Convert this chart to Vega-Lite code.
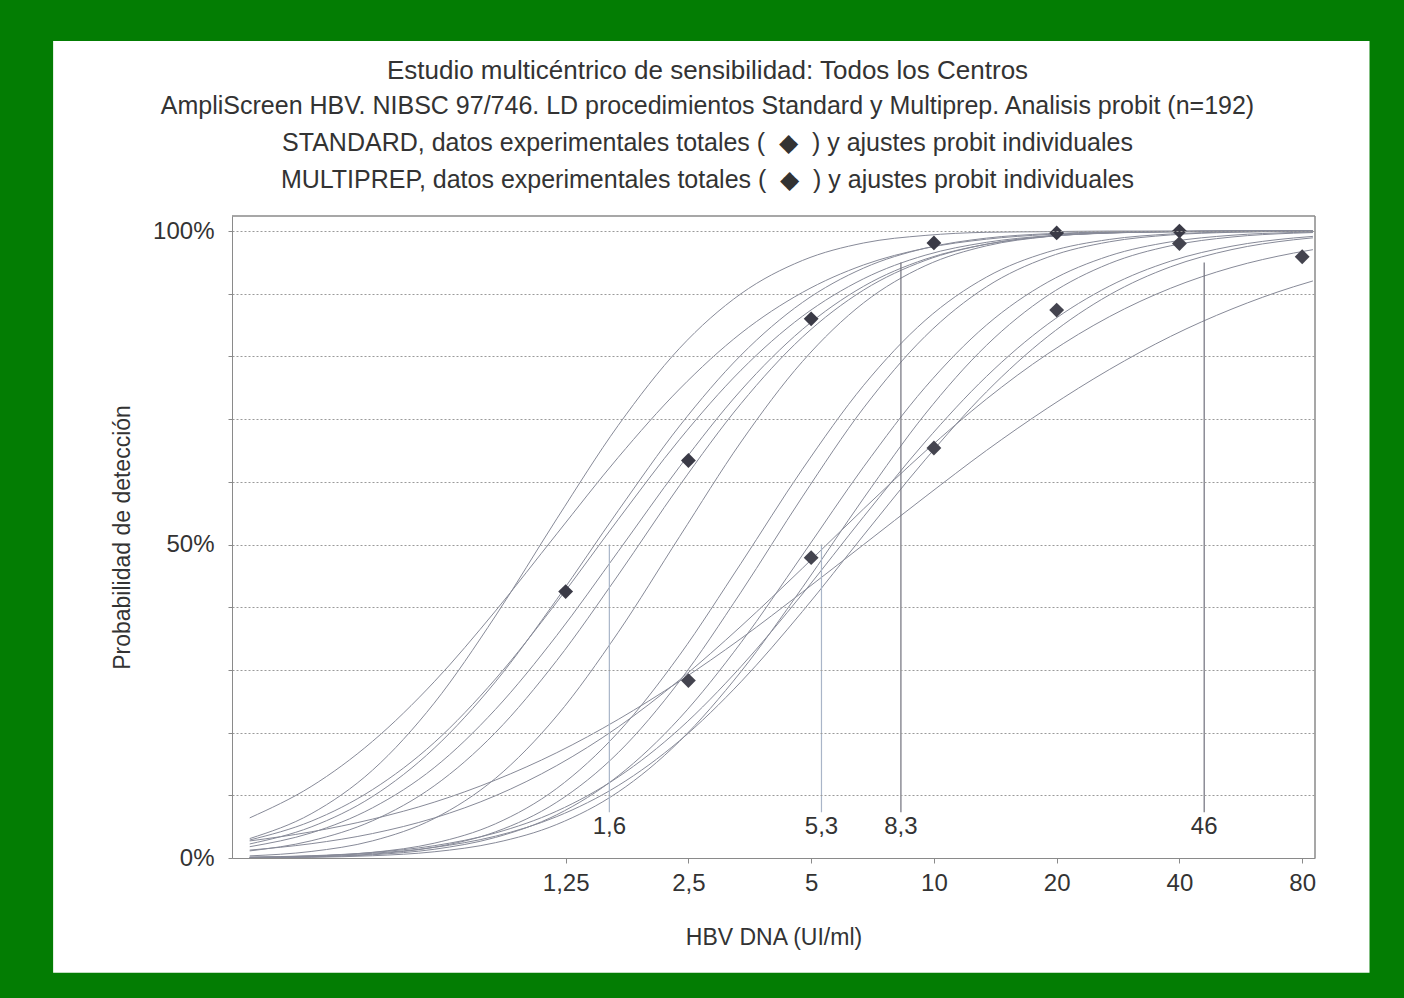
{
  "$schema": "https://vega.github.io/schema/vega-lite/v6.json",
  "width": 1083,
  "height": 642,
  "autosize": {"type": "none"},
  "padding": {"left": 232, "top": 216, "right": 89, "bottom": 140},
  "background": "#037d03",
  "config": {"view": {"stroke": null, "fill": null}, "font": "Liberation Sans"},
  "title": {
    "text": "Estudio multicéntrico de sensibilidad: Todos los Centros",
    "subtitle": [
      "AmpliScreen HBV. NIBSC 97/746. LD procedimientos Standard y Multiprep. Analisis probit (n=192)",
      "STANDARD, datos experimentales totales ( \u00a0◆\u00a0 ) y ajustes probit individuales",
      "MULTIPREP, datos experimentales totales ( \u00a0◆\u00a0 ) y ajustes probit individuales"
    ],
    "frame": "group",
    "anchor": "middle",
    "dx": -66,
    "offset": -152,
    "font": "Liberation Sans",
    "subtitleFont": "Liberation Sans",
    "fontSize": 26,
    "subtitleFontSize": 25,
    "fontWeight": "normal",
    "color": "#333333",
    "subtitleColor": "#333333",
    "subtitlePadding": 10,
    "subtitleLineHeight": 37
  },
  "datasets": {
    "curves": [
      {"c":"S1","x":0.21,"p":0.031},{"c":"S1","x":0.297,"p":0.0705},{"c":"S1","x":0.42,"p":0.14},{"c":"S1","x":0.595,"p":0.247},{"c":"S1","x":0.841,"p":0.386},{"c":"S1","x":1.189,"p":0.541},{"c":"S1","x":1.682,"p":0.69},{"c":"S1","x":2.378,"p":0.813},{"c":"S1","x":3.364,"p":0.9},{"c":"S1","x":4.757,"p":0.953},{"c":"S1","x":6.727,"p":0.981},{"c":"S1","x":9.514,"p":0.993},{"c":"S1","x":13.45,"p":0.998},{"c":"S1","x":19.03,"p":0.999},{"c":"S1","x":26.91,"p":1},{"c":"S1","x":38.06,"p":1},{"c":"S1","x":53.82,"p":1},{"c":"S1","x":76.11,"p":1},{"c":"S1","x":85,"p":1},
      {"c":"S2","x":0.21,"p":0.064},{"c":"S2","x":0.297,"p":0.114},{"c":"S2","x":0.42,"p":0.186},{"c":"S2","x":0.595,"p":0.281},{"c":"S2","x":0.841,"p":0.394},{"c":"S2","x":1.189,"p":0.517},{"c":"S2","x":1.682,"p":0.639},{"c":"S2","x":2.378,"p":0.748},{"c":"S2","x":3.364,"p":0.837},{"c":"S2","x":4.757,"p":0.902},{"c":"S2","x":6.727,"p":0.946},{"c":"S2","x":9.514,"p":0.9725},{"c":"S2","x":13.45,"p":0.987},{"c":"S2","x":19.03,"p":0.9945},{"c":"S2","x":26.91,"p":0.998},{"c":"S2","x":38.06,"p":0.999},{"c":"S2","x":53.82,"p":1},{"c":"S2","x":76.11,"p":1},{"c":"S2","x":85,"p":1},
      {"c":"S3","x":0.21,"p":0.0224},{"c":"S3","x":0.297,"p":0.0495},{"c":"S3","x":0.42,"p":0.098},{"c":"S3","x":0.595,"p":0.175},{"c":"S3","x":0.841,"p":0.281},{"c":"S3","x":1.189,"p":0.4125},{"c":"S3","x":1.682,"p":0.554},{"c":"S3","x":2.378,"p":0.689},{"c":"S3","x":3.364,"p":0.802},{"c":"S3","x":4.757,"p":0.886},{"c":"S3","x":6.727,"p":0.941},{"c":"S3","x":9.514,"p":0.9726},{"c":"S3","x":13.45,"p":0.9887},{"c":"S3","x":19.03,"p":0.9958},{"c":"S3","x":26.91,"p":0.9986},{"c":"S3","x":38.06,"p":0.9996},{"c":"S3","x":53.82,"p":1},{"c":"S3","x":76.11,"p":1},{"c":"S3","x":85,"p":1},
      {"c":"S4","x":0.21,"p":0.0287},{"c":"S4","x":0.297,"p":0.0586},{"c":"S4","x":0.42,"p":0.109},{"c":"S4","x":0.595,"p":0.184},{"c":"S4","x":0.841,"p":0.2855},{"c":"S4","x":1.189,"p":0.408},{"c":"S4","x":1.682,"p":0.54},{"c":"S4","x":2.378,"p":0.6675},{"c":"S4","x":3.364,"p":0.778},{"c":"S4","x":4.757,"p":0.864},{"c":"S4","x":6.727,"p":0.924},{"c":"S4","x":9.514,"p":0.9614},{"c":"S4","x":13.45,"p":0.982},{"c":"S4","x":19.03,"p":0.9925},{"c":"S4","x":26.91,"p":0.9972},{"c":"S4","x":38.06,"p":0.999},{"c":"S4","x":53.82,"p":0.9997},{"c":"S4","x":76.11,"p":1},{"c":"S4","x":85,"p":1},
      {"c":"S5","x":0.21,"p":0.018},{"c":"S5","x":0.297,"p":0.04},{"c":"S5","x":0.42,"p":0.08},{"c":"S5","x":0.595,"p":0.144},{"c":"S5","x":0.841,"p":0.237},{"c":"S5","x":1.189,"p":0.355},{"c":"S5","x":1.682,"p":0.489},{"c":"S5","x":2.378,"p":0.624},{"c":"S5","x":3.364,"p":0.746},{"c":"S5","x":4.757,"p":0.843},{"c":"S5","x":6.727,"p":0.912},{"c":"S5","x":9.514,"p":0.955},{"c":"S5","x":13.45,"p":0.979},{"c":"S5","x":19.03,"p":0.9915},{"c":"S5","x":26.91,"p":0.9968},{"c":"S5","x":38.06,"p":0.999},{"c":"S5","x":53.82,"p":0.9997},{"c":"S5","x":76.11,"p":1},{"c":"S5","x":85,"p":1},
      {"c":"S6","x":0.21,"p":0.0113},{"c":"S6","x":0.297,"p":0.0274},{"c":"S6","x":0.42,"p":0.0593},{"c":"S6","x":0.595,"p":0.115},{"c":"S6","x":0.841,"p":0.2},{"c":"S6","x":1.189,"p":0.315},{"c":"S6","x":1.682,"p":0.4514},{"c":"S6","x":2.378,"p":0.594},{"c":"S6","x":3.364,"p":0.7247},{"c":"S6","x":4.757,"p":0.8307},{"c":"S6","x":6.727,"p":0.906},{"c":"S6","x":9.514,"p":0.953},{"c":"S6","x":13.45,"p":0.979},{"c":"S6","x":19.03,"p":0.9917},{"c":"S6","x":26.91,"p":0.997},{"c":"S6","x":38.06,"p":0.999},{"c":"S6","x":53.82,"p":0.9997},{"c":"S6","x":76.11,"p":1},{"c":"S6","x":85,"p":1},
      {"c":"S7","x":0.21,"p":0.0034},{"c":"S7","x":0.297,"p":0.0104},{"c":"S7","x":0.42,"p":0.0273},{"c":"S7","x":0.595,"p":0.0629},{"c":"S7","x":0.841,"p":0.127},{"c":"S7","x":1.189,"p":0.2266},{"c":"S7","x":1.682,"p":0.36},{"c":"S7","x":2.378,"p":0.5125},{"c":"S7","x":3.364,"p":0.6635},{"c":"S7","x":4.757,"p":0.7917},{"c":"S7","x":6.727,"p":0.8856},{"c":"S7","x":9.514,"p":0.9445},{"c":"S7","x":13.45,"p":0.9764},{"c":"S7","x":19.03,"p":0.9912},{"c":"S7","x":26.91,"p":0.9972},{"c":"S7","x":38.06,"p":0.9992},{"c":"S7","x":53.82,"p":0.9998},{"c":"S7","x":76.11,"p":1},{"c":"S7","x":85,"p":1},
      {"c":"M1","x":0.21,"p":0.0009},{"c":"M1","x":0.297,"p":0.003},{"c":"M1","x":0.42,"p":0.009},{"c":"M1","x":0.595,"p":0.0236},{"c":"M1","x":0.841,"p":0.0545},{"c":"M1","x":1.189,"p":0.111},{"c":"M1","x":1.682,"p":0.2005},{"c":"M1","x":2.378,"p":0.3235},{"c":"M1","x":3.364,"p":0.47},{"c":"M1","x":4.757,"p":0.62},{"c":"M1","x":6.727,"p":0.754},{"c":"M1","x":9.514,"p":0.8574},{"c":"M1","x":13.45,"p":0.9265},{"c":"M1","x":19.03,"p":0.9665},{"c":"M1","x":26.91,"p":0.9866},{"c":"M1","x":38.06,"p":0.9953},{"c":"M1","x":53.82,"p":0.9985},{"c":"M1","x":76.11,"p":0.9996},{"c":"M1","x":85,"p":1},
      {"c":"M2","x":0.21,"p":0.0005},{"c":"M2","x":0.297,"p":0.002},{"c":"M2","x":0.42,"p":0.0062},{"c":"M2","x":0.595,"p":0.0172},{"c":"M2","x":0.841,"p":0.0417},{"c":"M2","x":1.189,"p":0.089},{"c":"M2","x":1.682,"p":0.168},{"c":"M2","x":2.378,"p":0.282},{"c":"M2","x":3.364,"p":0.424},{"c":"M2","x":4.757,"p":0.576},{"c":"M2","x":6.727,"p":0.718},{"c":"M2","x":9.514,"p":0.832},{"c":"M2","x":13.45,"p":0.911},{"c":"M2","x":19.03,"p":0.9583},{"c":"M2","x":26.91,"p":0.9828},{"c":"M2","x":38.06,"p":0.9938},{"c":"M2","x":53.82,"p":0.998},{"c":"M2","x":76.11,"p":0.9995},{"c":"M2","x":85,"p":0.9997},
      {"c":"M3","x":0.21,"p":0.0005},{"c":"M3","x":0.297,"p":0.0017},{"c":"M3","x":0.42,"p":0.0052},{"c":"M3","x":0.595,"p":0.0139},{"c":"M3","x":0.841,"p":0.0328},{"c":"M3","x":1.189,"p":0.069},{"c":"M3","x":1.682,"p":0.131},{"c":"M3","x":2.378,"p":0.2228},{"c":"M3","x":3.364,"p":0.3435},{"c":"M3","x":4.757,"p":0.483},{"c":"M3","x":6.727,"p":0.624},{"c":"M3","x":9.514,"p":0.7506},{"c":"M3","x":13.45,"p":0.85},{"c":"M3","x":19.03,"p":0.9186},{"c":"M3","x":26.91,"p":0.9604},{"c":"M3","x":38.06,"p":0.9828},{"c":"M3","x":53.82,"p":0.9933},{"c":"M3","x":76.11,"p":0.9977},{"c":"M3","x":85,"p":0.9984},
      {"c":"M4","x":0.21,"p":0.0003},{"c":"M4","x":0.297,"p":0.0011},{"c":"M4","x":0.42,"p":0.0036},{"c":"M4","x":0.595,"p":0.0099},{"c":"M4","x":0.841,"p":0.0244},{"c":"M4","x":1.189,"p":0.0535},{"c":"M4","x":1.682,"p":0.1053},{"c":"M4","x":2.378,"p":0.1862},{"c":"M4","x":3.364,"p":0.2973},{"c":"M4","x":4.757,"p":0.4313},{"c":"M4","x":6.727,"p":0.574},{"c":"M4","x":9.514,"p":0.708},{"c":"M4","x":13.45,"p":0.8176},{"c":"M4","x":19.03,"p":0.8973},{"c":"M4","x":26.91,"p":0.948},{"c":"M4","x":38.06,"p":0.9765},{"c":"M4","x":53.82,"p":0.9905},{"c":"M4","x":76.11,"p":0.9966},{"c":"M4","x":85,"p":0.9976},
      {"c":"M5","x":0.21,"p":0.0014},{"c":"M5","x":0.297,"p":0.0036},{"c":"M5","x":0.42,"p":0.0088},{"c":"M5","x":0.595,"p":0.0196},{"c":"M5","x":0.841,"p":0.0399},{"c":"M5","x":1.189,"p":0.0748},{"c":"M5","x":1.682,"p":0.1292},{"c":"M5","x":2.378,"p":0.206},{"c":"M5","x":3.364,"p":0.3053},{"c":"M5","x":4.757,"p":0.421},{"c":"M5","x":6.727,"p":0.5445},{"c":"M5","x":9.514,"p":0.6635},{"c":"M5","x":13.45,"p":0.768},{"c":"M5","x":19.03,"p":0.8516},{"c":"M5","x":26.91,"p":0.912},{"c":"M5","x":38.06,"p":0.952},{"c":"M5","x":53.82,"p":0.9759},{"c":"M5","x":76.11,"p":0.9889},{"c":"M5","x":85,"p":0.9915},
      {"c":"M6","x":0.21,"p":0.0011},{"c":"M6","x":0.297,"p":0.0031},{"c":"M6","x":0.42,"p":0.0075},{"c":"M6","x":0.595,"p":0.0169},{"c":"M6","x":0.841,"p":0.0348},{"c":"M6","x":1.189,"p":0.066},{"c":"M6","x":1.682,"p":0.1155},{"c":"M6","x":2.378,"p":0.187},{"c":"M6","x":3.364,"p":0.281},{"c":"M6","x":4.757,"p":0.393},{"c":"M6","x":6.727,"p":0.515},{"c":"M6","x":9.514,"p":0.635},{"c":"M6","x":13.45,"p":0.7435},{"c":"M6","x":19.03,"p":0.832},{"c":"M6","x":26.91,"p":0.898},{"c":"M6","x":38.06,"p":0.943},{"c":"M6","x":53.82,"p":0.9705},{"c":"M6","x":76.11,"p":0.986},{"c":"M6","x":85,"p":0.9892},
      {"c":"M7","x":0.21,"p":0.0272},{"c":"M7","x":0.297,"p":0.0417},{"c":"M7","x":0.42,"p":0.062},{"c":"M7","x":0.595,"p":0.089},{"c":"M7","x":0.841,"p":0.1243},{"c":"M7","x":1.189,"p":0.168},{"c":"M7","x":1.682,"p":0.221},{"c":"M7","x":2.378,"p":0.282},{"c":"M7","x":3.364,"p":0.35},{"c":"M7","x":4.757,"p":0.424},{"c":"M7","x":6.727,"p":0.5},{"c":"M7","x":9.514,"p":0.576},{"c":"M7","x":13.45,"p":0.65},{"c":"M7","x":19.03,"p":0.718},{"c":"M7","x":26.91,"p":0.779},{"c":"M7","x":38.06,"p":0.832},{"c":"M7","x":53.82,"p":0.8757},{"c":"M7","x":76.11,"p":0.911},{"c":"M7","x":85,"p":0.9204},
      {"c":"M8","x":0.21,"p":0.0126},{"c":"M8","x":0.297,"p":0.0228},{"c":"M8","x":0.42,"p":0.039},{"c":"M8","x":0.595,"p":0.0638},{"c":"M8","x":0.841,"p":0.0993},{"c":"M8","x":1.189,"p":0.1474},{"c":"M8","x":1.682,"p":0.209},{"c":"M8","x":2.378,"p":0.284},{"c":"M8","x":3.364,"p":0.3696},{"c":"M8","x":4.757,"p":0.462},{"c":"M8","x":6.727,"p":0.557},{"c":"M8","x":9.514,"p":0.6484},{"c":"M8","x":13.45,"p":0.732},{"c":"M8","x":19.03,"p":0.8043},{"c":"M8","x":26.91,"p":0.8633},{"c":"M8","x":38.06,"p":0.9088},{"c":"M8","x":53.82,"p":0.942},{"c":"M8","x":76.11,"p":0.9648},{"c":"M8","x":85,"p":0.9703}
    ],
    "points": [
      {"grupo":"STANDARD","x":1.25,"p":0.425},
      {"grupo":"STANDARD","x":2.5,"p":0.634},
      {"grupo":"STANDARD","x":5,"p":0.86},
      {"grupo":"STANDARD","x":10,"p":0.981},
      {"grupo":"STANDARD","x":20,"p":0.997},
      {"grupo":"STANDARD","x":40,"p":1.0},
      {"grupo":"MULTIPREP","x":2.5,"p":0.283},
      {"grupo":"MULTIPREP","x":5,"p":0.479},
      {"grupo":"MULTIPREP","x":10,"p":0.654},
      {"grupo":"MULTIPREP","x":20,"p":0.874},
      {"grupo":"MULTIPREP","x":40,"p":0.98},
      {"grupo":"MULTIPREP","x":80,"p":0.959}
    ],
    "ld": [
      {"grupo":"STANDARD","x":1.6,"nivel":0.5,"label":"1,6"},
      {"grupo":"MULTIPREP","x":5.3,"nivel":0.5,"label":"5,3"},
      {"grupo":"STANDARD","x":8.3,"nivel":0.95,"label":"8,3"},
      {"grupo":"MULTIPREP","x":46,"nivel":0.95,"label":"46"}
    ]
  },
  "layer": [
    {
      "data": {"values": [{}]},
      "mark": {"type": "rect", "fill": "white", "clip": false},
      "encoding": {
        "x": {"datum": 0.0692, "type": "quantitative"},
        "x2": {"datum": 117},
        "y": {"datum": -0.183, "type": "quantitative"},
        "y2": {"datum": 1.303}
      }
    },
    {
      "data": {"name": "curves"},
      "mark": {"type": "line", "interpolate": "monotone", "color": "#878a98", "strokeWidth": 1, "clip": true},
      "encoding": {
        "x": {
          "field": "x", "type": "quantitative",
          "scale": {"type": "log", "domain": [0.19, 86], "nice": false},
          "axis": {
            "values": [1.25, 2.5, 5, 10, 20, 40, 80],
            "labelExpr": "replace(datum.value + '', '.', ',')",
            "title": "HBV DNA (UI/ml)",
            "grid": false,
            "zindex": 1,
            "labelFont": "Liberation Sans", "titleFont": "Liberation Sans",
            "labelFontSize": 24, "titleFontSize": 23, "titleFontWeight": "normal",
            "labelColor": "#333333", "titleColor": "#333333",
            "domainColor": "#8a8a8a", "tickColor": "#8a8a8a", "tickSize": 5,
            "labelPadding": 8, "titlePadding": 31, "labelOverlap": false
          }
        },
        "y": {
          "field": "p", "type": "quantitative",
          "scale": {"domain": [0, 1.024], "nice": false, "zero": false},
          "axis": {
            "values": [0, 0.05, 0.1, 0.15, 0.2, 0.25, 0.3, 0.35, 0.4, 0.45, 0.5, 0.55, 0.6, 0.65, 0.7, 0.75, 0.8, 0.85, 0.9, 0.95, 1],
            "labelExpr": "(datum.value == 0 || datum.value == 0.5 || datum.value == 0.95 || datum.value == 1) ? format(datum.value, '.0%') : ''",
            "title": "Probabilidad de detección",
            "grid": true, "gridDash": [2, 2], "gridColor": "#9a9a9a", "gridWidth": 1,
            "zindex": 1,
            "labelFont": "Liberation Sans", "titleFont": "Liberation Sans",
            "labelFontSize": 24, "titleFontSize": 23, "titleFontWeight": "normal",
            "labelColor": "#333333", "titleColor": "#333333",
            "domainColor": "#8a8a8a", "tickColor": "#8a8a8a", "tickSize": 4,
            "labelPadding": 14, "titlePadding": 18, "labelOverlap": false
          }
        },
        "detail": {"field": "c"}
      }
    },
    {
      "data": {"name": "ld"},
      "transform": [{"filter": "datum.nivel == 0.5"}],
      "mark": {"type": "rule", "color": "#a9b5c8", "strokeWidth": 1.2},
      "encoding": {
        "x": {"field": "x", "type": "quantitative"},
        "y": {"field": "nivel", "type": "quantitative"},
        "y2": {"datum": 0.073}
      }
    },
    {
      "data": {"name": "ld"},
      "transform": [{"filter": "datum.nivel == 0.95"}],
      "mark": {"type": "rule", "color": "#70707c", "strokeWidth": 1.2},
      "encoding": {
        "x": {"field": "x", "type": "quantitative"},
        "y": {"field": "nivel", "type": "quantitative"},
        "y2": {"datum": 0.073}
      }
    },
    {
      "data": {"name": "ld"},
      "mark": {"type": "text", "font": "Liberation Sans", "fontSize": 24, "color": "#333333", "align": "center", "baseline": "middle"},
      "encoding": {
        "x": {"field": "x", "type": "quantitative"},
        "y": {"datum": 0.05, "type": "quantitative"},
        "text": {"field": "label"}
      }
    },
    {
      "data": {"name": "points"},
      "mark": {"type": "point", "shape": "diamond", "filled": true, "size": 220, "opacity": 1},
      "encoding": {
        "x": {"field": "x", "type": "quantitative"},
        "y": {"field": "p", "type": "quantitative"},
        "color": {"field": "grupo", "type": "nominal", "scale": {"domain": ["STANDARD", "MULTIPREP"], "range": ["#3a3a46", "#44444f"]}, "legend": null}
      }
    },
    {
      "data": {"values": [{}]},
      "mark": {"type": "rule", "color": "#8a8a8a", "strokeWidth": 1.5},
      "encoding": {
        "x": {"datum": 0.19, "type": "quantitative"},
        "x2": {"datum": 86},
        "y": {"datum": 1.024, "type": "quantitative"}
      }
    },
    {
      "data": {"values": [{}]},
      "mark": {"type": "rule", "color": "#8a8a8a", "strokeWidth": 1.5},
      "encoding": {
        "x": {"datum": 86, "type": "quantitative"},
        "y": {"datum": 0, "type": "quantitative"},
        "y2": {"datum": 1.024}
      }
    }
  ]
}
